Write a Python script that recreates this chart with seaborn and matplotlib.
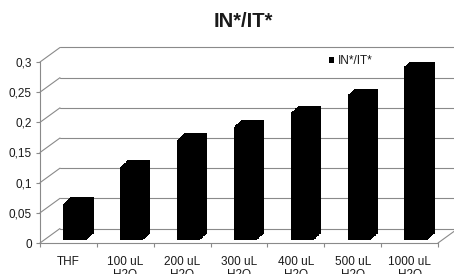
import numpy as np
import pandas as pd
import seaborn as sns
import matplotlib.pyplot as plt
from matplotlib.transforms import ScaledTranslation
from matplotlib.ticker import FuncFormatter

categories = ["THF", "100 uL\nH2O", "200 uL\nH2O", "300 uL\nH2O",
              "400 uL\nH2O", "500 uL\nH2O", "1000 uL\nH2O"]
ratio = [0.060, 0.121, 0.166, 0.188, 0.211, 0.240, 0.288]
y_ticks = [0, 0.05, 0.1, 0.15, 0.2, 0.25, 0.3]
series_name = "IN*/IT*"

sns.set_theme(style="white")
plt.rcParams['font.family'] = ['Liberation Sans', 'DejaVu Sans']

df = pd.DataFrame({"sample": categories, "ratio": ratio})

GRID = '#8a8a8a'
TEXT = '#1a1a1a'
DPI = 100

fig = plt.figure(figsize=(4.54, 2.74), dpi=DPI)
ax = fig.add_axes([40 / 454, 31 / 274, 398 / 454, 181 / 274])


def shift(dx, dy):
    # offset in pixels from the front plane (excel-style fake 3d)
    return ax.transData + ScaledTranslation(dx / DPI, dy / DPI, fig.dpi_scale_trans)


# back wall gridlines + side wall diagonals
wall_dx, wall_dy = 20, 14.5
for v in y_ticks:
    ax.plot([-0.5, 7.5], [v, v], color=GRID, lw=0.8,
            transform=shift(wall_dx, wall_dy), clip_on=False, zorder=1)
    ax.annotate('', xy=(-0.5, v), xytext=(wall_dx * 0.72, wall_dy * 0.72),
                textcoords='offset points', annotation_clip=False,
                arrowprops=dict(arrowstyle='-', color=GRID, lw=0.8,
                                shrinkA=0, shrinkB=0))
# right end of the floor
ax.annotate('', xy=(6.5, 0), xytext=(wall_dx * 0.72, wall_dy * 0.72),
            textcoords='offset points', annotation_clip=False,
            arrowprops=dict(arrowstyle='-', color=GRID, lw=0.8,
                            shrinkA=0, shrinkB=0))

# columns: sweep the bar from back face to front face to get the depth
for k in np.linspace(1, 0, 10):
    n = len(ax.patches)
    sns.barplot(data=df, x="sample", y="ratio", color="black", saturation=1,
                width=0.41, errorbar=None, linewidth=0, edgecolor="black",
                label=series_name if k == 0 else None, legend=False,
                ax=ax, zorder=3)
    for p in ax.patches[n:]:
        p.set_transform(shift(6.5 + 7 * k, 3 + 6.5 * k))

ax.set_xlim(-0.5, 6.5)
ax.set_ylim(0, 0.3)
ax.set_yticks(y_ticks)
ax.yaxis.set_major_formatter(FuncFormatter(lambda v, _: ('%g' % v).replace('.', ',')))
ax.set_xticks(range(len(categories)))
ax.set_xticklabels(categories)
ax.set_xticks(np.arange(-0.5, len(categories)), minor=True)
ax.set_xlabel('')
ax.set_ylabel('')
ax.grid(False)

for side in ['top', 'right']:
    ax.spines[side].set_visible(False)
for side in ['left', 'bottom']:
    ax.spines[side].set_color(GRID)
    ax.spines[side].set_linewidth(0.8)

ax.tick_params(axis='y', which='major', left=True, length=3, width=0.8,
               color=GRID, labelsize=8.5, pad=3, labelcolor=TEXT)
ax.tick_params(axis='x', which='major', bottom=True, length=0, labelsize=8.5,
               pad=9.5, labelcolor=TEXT)
ax.tick_params(axis='x', which='minor', bottom=True, length=3, width=0.8, color=GRID)
for lbl in ax.get_xticklabels():
    lbl.set_linespacing(1.1)

handles, labels = ax.get_legend_handles_labels()
ax.legend(handles, labels, loc='upper left',
          bbox_to_anchor=(329 / 454, 1 - 55 / 274), bbox_transform=fig.transFigure,
          frameon=False, handlelength=0.45, handleheight=0.45, handletextpad=0.3,
          fontsize=8.5, borderpad=0, borderaxespad=0, labelcolor=TEXT)

fig.text(243 / 454, 1 - 21.5 / 274, "IN*/IT*", ha='center', va='center',
         fontsize=14.5, fontweight='bold', color=TEXT)

fig.savefig('out.png', dpi=DPI)
plt.close(fig)
